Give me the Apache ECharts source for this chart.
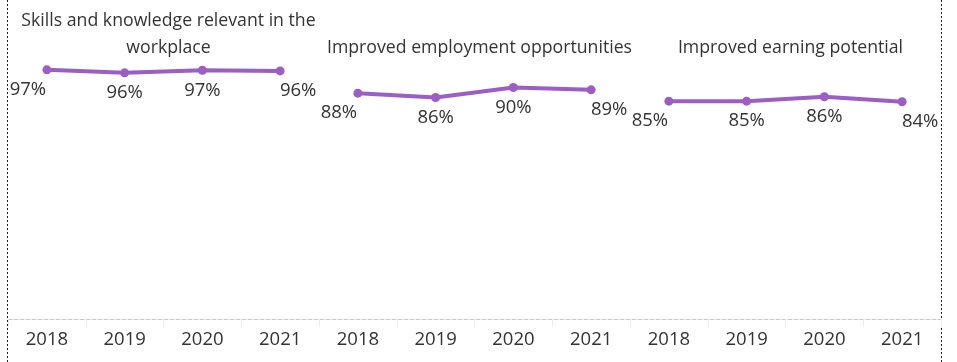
<!DOCTYPE html>
<html>
<head>
<meta charset="utf-8">
<script src="https://cdn.jsdelivr.net/npm/echarts@6/dist/echarts.min.js"></script>
<style>
  html, body { margin: 0; padding: 0; background: #fff; }
  #chart { width: 957px; height: 362px; }
</style>
</head>
<body>
<div id="chart"></div>
<script>
// data
const years = ['2018', '2019', '2020', '2021']
const panelTitles = [
  'Skills and knowledge relevant in the\nworkplace',
  'Improved employment opportunities',
  'Improved earning potential'
]
const skillsValues = [96.75, 95.6, 96.6, 96.35]
const employmentValues = [87.7, 86.0, 89.9, 89.0]
const earningValues = [84.6, 84.6, 86.3, 84.35]

const PURPLE = '#9b5ec4'
const TEXT = '#333333'
const FONT = 'Open Sans'
const TITLE_SIZE = 17.7
const NUM_SIZE = 18.5

const panels = [skillsValues, employmentValues, earningValues]
const categories = [].concat(years, years, years)

// each panel is its own series on a shared 12-slot category axis
const series = panels.map(function (vals, p) {
  const data = categories.map(() => null)
  vals.forEach(function (v, i) {
    let offset = [0, 0]
    if (i === 0) offset = [-19, 0]
    if (i === vals.length - 1) offset = [18, 0]
    data[p * 4 + i] = { value: v, label: { offset: offset } }
  })
  return {
    type: 'line',
    data: data,
    connectNulls: false,
    symbol: 'circle',
    symbolSize: 9,
    lineStyle: { color: PURPLE, width: 4 },
    itemStyle: { color: PURPLE },
    label: {
      show: true,
      position: 'bottom',
      distance: 6,
      color: TEXT,
      fontFamily: FONT,
      fontSize: NUM_SIZE,
      formatter: function (params) {
        return Math.round(params.value) + '%'
      }
    },
    animation: false
  }
})

const gridLeft = 8
const gridRight = 16
const panelW = (957 - gridLeft - gridRight) / 3

const chart = echarts.init(document.getElementById('chart'))
chart.setOption({
  backgroundColor: '#fff',
  title: panelTitles.map(function (t, p) {
    return {
      text: t,
      left: gridLeft + panelW * (p + 0.5),
      top: p === 0 ? 2 : 29,
      textAlign: 'center',
      textStyle: {
        color: TEXT,
        fontFamily: FONT,
        fontSize: TITLE_SIZE,
        fontWeight: 'normal',
        lineHeight: 27
      }
    }
  }),
  grid: {
    left: gridLeft,
    right: gridRight,
    top: 61.5,
    bottom: 43
  },
  xAxis: {
    type: 'category',
    data: categories,
    boundaryGap: true,
    axisLine: {
      lineStyle: { color: '#c8c8c8', type: [4, 2], width: 1 }
    },
    axisTick: {
      show: true,
      length: 8,
      lineStyle: { color: '#ececec' }
    },
    axisLabel: {
      interval: 0,
      margin: 11,
      color: TEXT,
      fontFamily: FONT,
      fontSize: NUM_SIZE
    }
  },
  yAxis: {
    type: 'value',
    min: 0,
    max: 100,
    show: false
  },
  series: series,
  graphic: [
    {
      type: 'line',
      shape: { x1: 7.5, y1: 0, x2: 7.5, y2: 362 },
      style: { stroke: '#222', lineWidth: 1, lineDash: [2, 2] }
    },
    {
      type: 'line',
      shape: { x1: 941.5, y1: 0, x2: 941.5, y2: 362 },
      style: { stroke: '#222', lineWidth: 1, lineDash: [2, 2] }
    }
  ],
  animation: false
})
</script>
</body>
</html>
